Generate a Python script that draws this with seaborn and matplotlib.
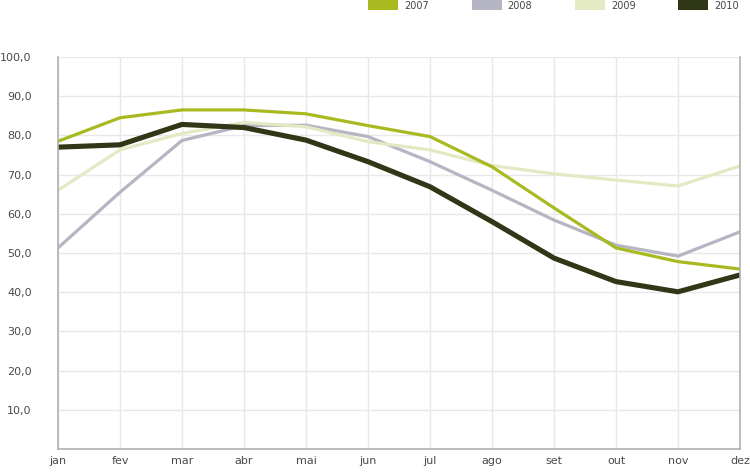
import numpy as np
import pandas as pd
import seaborn as sns
import matplotlib
matplotlib.use("Agg")
import matplotlib.pyplot as plt
from matplotlib.patches import Patch

# monthly values
meses = ["jan", "fev", "mar", "abr", "mai", "jun", "jul", "ago", "set", "out", "nov", "dez"]
v2007 = [78.5, 84.5, 86.5, 86.5, 85.5, 82.5, 79.7, 72.0, 61.5, 51.3, 47.8, 45.9]
v2008 = [51.3, 65.5, 78.7, 82.5, 82.6, 79.7, 73.3, 66.0, 58.4, 52.0, 49.2, 55.4]
v2009 = [66.0, 76.3, 80.5, 83.3, 82.2, 78.4, 76.3, 72.3, 70.2, 68.6, 67.1, 72.2]
v2010 = [77.0, 77.6, 82.8, 82.0, 78.8, 73.3, 66.9, 58.0, 48.7, 42.7, 40.1, 44.4]
anos = ["2007", "2008", "2009", "2010"]
yticks = [10, 20, 30, 40, 50, 60, 70, 80, 90, 100]

cores = {"2007": "#a9b920", "2008": "#b5b5c3", "2009": "#e3e9c2", "2010": "#2f3716"}
larg = {"2007": 2.3, "2008": 2.3, "2009": 2.3, "2010": 3.7}

df = pd.DataFrame({
    "mes": meses * 4,
    "valor": v2007 + v2008 + v2009 + v2010,
    "ano": [a for a in anos for _ in meses],
})

sns.set_theme(style="white")
plt.rcParams["font.family"] = ["DejaVu Sans"]

fig = plt.figure(figsize=(7.5, 4.74), dpi=100, facecolor="white")
ax = fig.add_axes([58 / 750, 25 / 474, 682 / 750, 392 / 474])

sns.lineplot(data=df, x="mes", y="valor", hue="ano", size="ano",
             hue_order=["2008", "2009", "2007", "2010"],
             palette=cores, sizes=larg, sort=False, legend=False, ax=ax)
for ln in ax.get_lines():
    ln.set_solid_joinstyle("round")
    ln.set_solid_capstyle("butt")

ax.set_xlim(0, 11)
ax.set_ylim(0, 100)
ax.set_xticks(range(len(meses)))
ax.set_xticklabels(meses)
ax.set_yticks(yticks)
ax.set_yticklabels([f"{v:.1f}".replace(".", ",") for v in yticks])
ax.set_xlabel("")
ax.set_ylabel("")
ax.grid(True, color="#e8e8e8", linewidth=1)
ax.set_axisbelow(True)
ax.tick_params(axis="y", length=0, pad=19, labelsize=8, labelcolor="#4a4a4a")
ax.tick_params(axis="x", length=0, pad=5, labelsize=8, labelcolor="#4a4a4a")
for s in ["left", "bottom", "right"]:
    ax.spines[s].set_color("#b0b0b0")
    ax.spines[s].set_linewidth(1.2)
ax.spines["top"].set_visible(False)

handles = [Patch(facecolor=cores[a], edgecolor="none") for a in anos]
fig.legend(handles, anos, ncol=4, loc="upper left", bbox_to_anchor=(368 / 750, 0.999),
           frameon=False, fontsize=7, handlelength=3.1, handleheight=1.15,
           handletextpad=0.6, columnspacing=4.4, borderaxespad=0, borderpad=0,
           labelcolor="#444444")

fig.savefig("out.png", dpi=100, facecolor="white")
